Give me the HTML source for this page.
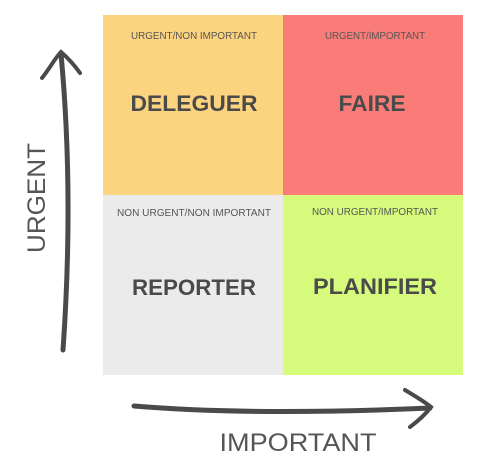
<!DOCTYPE html>
<html><head><meta charset="utf-8"><style>
html,body{margin:0;padding:0;background:#fff;}
svg{display:block;}
</style></head><body>
<svg width="487" height="464" viewBox="0 0 487 464" xmlns="http://www.w3.org/2000/svg">
<rect x="103" y="15" width="180" height="180" fill="#FCD37F"/>
<rect x="283" y="15" width="180" height="180" fill="#FA7C78"/>
<rect x="103" y="195" width="180" height="180" fill="#EBEBEB"/>
<rect x="283" y="195" width="180" height="180" fill="#D6FA7C"/>
<g font-family="Liberation Sans, sans-serif" fill="#555" text-anchor="middle">
<text x="194" y="39" font-size="10" textLength="126" lengthAdjust="spacingAndGlyphs">URGENT/NON IMPORTANT</text>
<text x="375" y="39" font-size="10" textLength="100" lengthAdjust="spacingAndGlyphs">URGENT/IMPORTANT</text>
<text x="194" y="216" font-size="10" textLength="154" lengthAdjust="spacingAndGlyphs">NON URGENT/NON IMPORTANT</text>
<text x="375" y="215" font-size="10" textLength="126" lengthAdjust="spacingAndGlyphs">NON URGENT/IMPORTANT</text>
</g>
<g font-family="Liberation Sans, sans-serif" font-weight="bold" fill="#4a4a4a" text-anchor="middle" font-size="22">
<text x="194" y="111" textLength="127" lengthAdjust="spacingAndGlyphs">DELEGUER</text>
<text x="372" y="111" textLength="67" lengthAdjust="spacingAndGlyphs">FAIRE</text>
<text x="194" y="295" textLength="124" lengthAdjust="spacingAndGlyphs">REPORTER</text>
<text x="375" y="294" textLength="124" lengthAdjust="spacingAndGlyphs">PLANIFIER</text>
</g>
<g stroke="#4a4a4a" fill="none" stroke-linecap="round">
<path d="M63 350 C 70 250, 70 150, 61 54" stroke-width="5"/>
<path d="M42 78 C 50 68, 55 58, 61 52 C 68 58, 75 66, 80 73" stroke-width="4"/>
<path d="M134 406 C 230 414, 340 412, 430 408" stroke-width="5"/>
<path d="M405 390 C 415 396, 425 402, 431 407 C 425 415, 418 421, 410 427" stroke-width="4"/>
</g>
<g font-family="Liberation Sans, sans-serif" fill="#555" font-size="25">
<text x="0" y="0" transform="translate(45 198) rotate(-90)" text-anchor="middle" textLength="110" lengthAdjust="spacingAndGlyphs">URGENT</text>
<text x="298" y="451" text-anchor="middle" textLength="157" lengthAdjust="spacingAndGlyphs">IMPORTANT</text>
</g>
</svg>
</body></html>
